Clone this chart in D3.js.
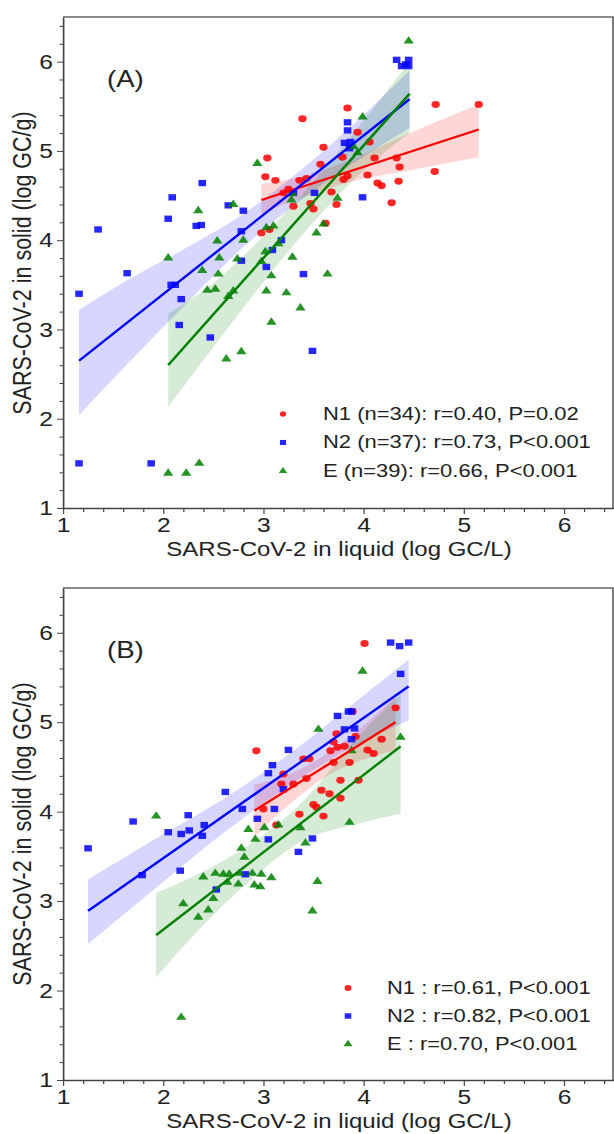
<!DOCTYPE html>
<html lang="en">
<head>
<meta charset="UTF-8">
<title>SARS-CoV-2 in solid vs liquid</title>
<script src="https://d3js.org/d3.v7.min.js"></script>
<style>
  body { margin: 0; background: #fff; }
  svg { display: block; }
  text { font-family: "Liberation Sans", Arial, sans-serif; fill: #222; }
</style>
</head>
<body>
<script>
// ---- values ----
const xTicks = [1, 2, 3, 4, 5, 6];
const yTicks = [1, 2, 3, 4, 5, 6];
const geneNames = ["N1", "N2", "E"];
const legendA = ["N1 (n=34): r=0.40, P=0.02", "N2 (n=37): r=0.73, P<0.001", "E (n=39): r=0.66, P<0.001"];
const legendB = ["N1 : r=0.61, P<0.001", "N2 : r=0.82, P<0.001", "E : r=0.70, P<0.001"];

// panel A  [liquid, solid]
const n1A = [[3.39,5.36],[3.04,4.92],[3.02,4.71],[3.12,4.67],[3.20,4.53],[3.25,4.57],[3.36,4.67],[3.43,4.69],
  [3.30,4.38],[3.47,4.41],[3.50,4.35],[2.98,4.08],[3.06,4.12],[3.57,4.85],[3.60,5.04],[3.68,4.54],[3.73,4.40],
  [3.62,4.19],[3.84,5.48],[3.94,5.21],[4.06,5.10],[3.79,4.93],[4.11,4.92],[4.33,4.92],[4.36,4.82],[3.84,4.72],
  [3.80,4.68],[4.04,4.73],[4.35,4.66],[4.14,4.64],[4.18,4.61],[4.28,4.42],[4.72,5.52],[5.15,5.52],[4.71,4.77]];
const n2A = [[1.35,4.12],[2.09,4.48],[2.05,4.24],[2.39,4.64],[2.33,4.16],[2.38,4.17],[2.65,4.39],[2.80,4.33],
  [2.78,4.10],[2.78,3.77],[1.64,3.63],[3.09,3.89],[3.18,4.00],[3.03,3.70],[3.40,3.62],[3.30,4.53],[3.51,4.53],
  [1.16,3.40],[2.08,3.50],[2.12,3.50],[2.18,3.34],[2.16,3.05],[2.47,2.91],[3.49,2.76],[1.16,1.50],[1.88,1.50],
  [3.84,5.32],[3.84,5.23],[3.81,5.09],[3.87,5.10],[3.86,5.03],[3.99,4.48],[4.33,6.02],[4.38,5.95],[4.42,5.97],
  [4.45,6.02],[4.45,5.95]];
const eA = [[2.94,4.86],[2.70,4.40],[2.35,4.33],[2.54,3.99],[2.80,4.00],[2.05,3.80],[2.56,3.80],[2.74,3.79],
  [3.03,4.14],[3.10,4.16],[3.29,4.52],[3.28,4.45],[3.02,3.87],[3.15,3.96],[3.29,3.81],[3.53,4.08],[2.39,3.66],
  [2.55,3.62],[2.98,3.76],[3.08,3.60],[2.44,3.44],[2.52,3.45],[2.65,3.37],[2.70,3.43],[3.03,3.43],[3.23,3.41],
  [3.37,3.24],[3.08,3.08],[2.63,2.67],[2.78,2.75],[2.05,1.39],[2.23,1.39],[2.36,1.50],[3.64,3.62],[3.60,4.18],
  [3.74,4.47],[4.45,6.23],[3.99,5.38],[3.90,5.05],[3.94,4.98]];
const n1AFit = [[2.98,4.45],[5.15,5.24]];
const n2AFit = [[1.16,2.65],[4.46,5.58]];
const eAFit = [[2.05,2.60],[4.46,5.64]];
// confidence band  [liquid, lower, upper]
const n1ABand = [[2.98,4.30,4.63],[3.40,4.48,4.72],[3.85,4.65,4.89],[4.40,4.77,5.17],[5.15,4.93,5.52]];
const n2ABand = [[1.16,2.04,3.22],[1.64,2.61,3.55],[2.24,3.30,3.92],[2.70,3.82,4.22],[3.56,4.60,4.96],[4.46,5.26,5.90]];
const eABand = [[2.05,2.13,3.18],[2.50,2.80,3.52],[3.00,3.53,4.05],[3.50,4.20,4.66],[4.00,4.78,5.34],[4.46,5.20,6.00]];

// panel B
const n1B = [[2.93,4.68],[3.40,4.59],[3.46,4.59],[3.67,4.68],[3.20,4.42],[3.18,4.31],[3.30,4.31],[3.43,4.37],
  [3.00,4.03],[3.13,3.85],[3.58,4.24],[3.66,4.20],[3.50,4.08],[3.53,4.05],[3.36,3.97],[3.60,3.95],[4.01,5.88],
  [4.32,5.16],[3.89,5.12],[3.73,4.87],[3.70,4.78],[3.74,4.72],[3.81,4.73],[3.92,4.84],[4.18,4.81],[4.04,4.69],
  [4.10,4.65],[3.70,4.55],[3.86,4.55],[3.77,4.35],[3.95,4.35],[3.77,4.15]];
const n2B = [[3.25,4.69],[3.09,4.52],[3.05,4.43],[3.20,4.25],[2.62,4.22],[2.79,4.03],[3.11,4.03],[2.94,3.92],
  [1.70,3.89],[2.25,3.96],[2.05,3.77],[2.18,3.75],[2.26,3.79],[2.41,3.85],[2.39,3.73],[3.05,3.69],[3.49,3.70],
  [1.25,3.59],[3.35,3.55],[2.17,3.34],[2.82,3.30],[2.53,3.13],[1.79,3.29],[4.27,5.89],[4.36,5.85],[4.45,5.89],
  [4.37,5.54],[3.74,5.07],[3.85,5.12],[3.88,5.12],[3.81,4.92],[3.91,4.93],[3.88,4.81]];
const eB = [[3.55,4.92],[1.93,3.95],[2.85,3.80],[3.01,3.82],[3.15,3.85],[3.37,3.82],[2.92,3.69],[2.78,3.59],
  [3.42,3.65],[2.81,3.49],[2.52,3.31],[2.40,3.27],[2.60,3.30],[2.66,3.30],[2.64,3.21],[2.76,3.31],[2.75,3.19],
  [2.89,3.31],[2.98,3.30],[3.08,3.26],[2.91,3.18],[2.97,3.16],[3.54,3.22],[3.49,2.89],[2.20,2.97],[2.50,3.03],
  [2.45,2.90],[2.35,2.82],[2.18,1.70],[3.99,5.57],[4.37,4.83],[3.88,4.68],[3.86,3.88]];
const n1BFit = [[2.91,4.01],[4.32,5.00]];
const n2BFit = [[1.25,2.89],[4.45,5.40]];
const eBFit = [[1.93,2.62],[4.37,4.73]];
const n1BBand = [[2.91,3.72,4.30],[3.30,4.12,4.44],[3.65,4.41,4.66],[4.00,4.58,4.96],[4.32,4.69,5.30]];
const n2BBand = [[1.25,2.52,3.24],[1.90,3.12,3.68],[2.60,3.76,4.14],[3.30,4.32,4.68],[3.90,4.73,5.21],[4.45,5.02,5.70]];
const eBBand = [[1.93,2.15,3.09],[2.40,2.73,3.33],[2.90,3.26,3.66],[3.40,3.68,4.12],[3.90,3.85,4.78],[4.37,3.98,5.32]];

// ---- drawing ----
const W = 614, H = 1134;
const SX = 1.2;               // the figure is stretched horizontally
const rx = v => v / SX;

const colors = ["#ff0000", "#0000ff", "#008000"];
const symbols = [d3.symbolCircle, d3.symbolSquare, d3.symbolTriangle];
const sizes = [38, 40, 32];

const svg = d3.select("body").append("svg")
  .attr("width", W).attr("height", H)
  .attr("viewBox", `0 0 ${rx(W)} ${H}`)
  .attr("preserveAspectRatio", "none");

const x = d3.scaleLinear().domain([1, 6.5]).range([rx(63), rx(614)]);
const minorTicks = d3.range(5, 33).filter(i => i % 5 !== 0).map(i => i / 5);

function drawPanel(p) {
  const y = d3.scaleLinear().domain([1, 6.5]).range([p.bottom, p.top]);
  const g = svg.append("g");

  const area = d3.area()
    .x(d => x(d[0])).y0(d => y(d[1])).y1(d => y(d[2]))
    .curve(d3.curveMonotoneX);

  p.bands.forEach((b, i) => {
    g.append("path").datum(b).attr("d", area)
      .attr("fill", colors[i]).attr("fill-opacity", 0.16);
  });

  // frame top / right
  g.append("path")
    .attr("d", `M${x(1)},${y(6.5)}H${rx(613)}V${y(1)}`)
    .attr("fill", "none").attr("stroke", "#666").attr("stroke-width", 1.4);

  // axes
  const ax = g.append("g").attr("transform", `translate(0,${y(1)})`)
    .call(d3.axisBottom(x).tickValues(xTicks).tickSize(6).tickSizeOuter(0).tickPadding(3).tickFormat(d3.format("d")));
  g.append("g").attr("transform", `translate(0,${y(1)})`)
    .call(d3.axisBottom(x).tickValues(minorTicks).tickSize(4).tickSizeOuter(0).tickFormat(""))
    .select(".domain").remove();
  const ay = g.append("g").attr("transform", `translate(${x(1)},0)`)
    .call(d3.axisLeft(y).tickValues(yTicks).tickSize(rx(6)).tickSizeOuter(0).tickPadding(rx(4)).tickFormat(d3.format("d")));
  g.append("g").attr("transform", `translate(${x(1)},0)`)
    .call(d3.axisLeft(y).tickValues(minorTicks).tickSize(rx(3.5)).tickSizeOuter(0).tickFormat(""))
    .select(".domain").remove();

  g.selectAll(".domain").attr("stroke", "#444").attr("stroke-width", 1.4);
  g.selectAll(".tick line").attr("stroke", "#444");
  [ax, ay].forEach(a => a.selectAll("text")
    .attr("font-size", 20.5).attr("fill", "#222")
    .attr("font-family", "'Liberation Sans', Arial, sans-serif"));

  // points
  p.points.forEach((pts, i) => {
    g.append("g").selectAll("path").data(pts).join("path")
      .attr("transform", d => `translate(${x(d[0])},${y(d[1])})`)
      .attr("d", d3.symbol(symbols[i], sizes[i]))
      .attr("fill", colors[i]).attr("fill-opacity", 0.85);
  });

  // regression lines
  const line = d3.line().x(d => x(d[0])).y(d => y(d[1]));
  p.fits.forEach((f, i) => {
    g.append("path").datum(f).attr("d", line)
      .attr("fill", "none").attr("stroke", colors[i]).attr("stroke-width", 2.2);
  });

  // panel label
  g.append("text").attr("x", rx(107)).attr("y", p.top + 70)
    .attr("font-size", 23).text(p.label);

  // legend
  p.legend.forEach((t, i) => {
    const ly = p.top + p.legendY + i * p.legendStep;
    g.append("path")
      .attr("transform", `translate(${rx(p.symX)},${ly - 6})`)
      .attr("d", d3.symbol(symbols[i], p.legendSize[i]))
      .attr("fill", colors[i]).attr("fill-opacity", 0.85);
    g.append("text").attr("x", rx(p.textX)).attr("y", ly)
      .attr("font-size", 18.3).attr("fill", "#333").text(t);
  });

  // axis titles
  g.append("text")
    .attr("transform", `translate(${rx(31)},${p.top + 246}) rotate(-90)`)
    .attr("text-anchor", "middle").attr("font-size", 21.5)
    .text("SARS-CoV-2 in solid (log GC/g)");
  g.append("text")
    .attr("x", rx(339)).attr("y", p.bottom + 48)
    .attr("text-anchor", "middle").attr("font-size", 20)
    .text("SARS-CoV-2 in liquid (log GC/L)");
}

drawPanel({
  top: 17, bottom: 508, label: "(A)",
  points: [n1A, n2A, eA], fits: [n1AFit, n2AFit, eAFit], bands: [n1ABand, n2ABand, eABand],
  legend: legendA, legendY: 403, legendStep: 28.5, symX: 283, textX: 323, legendSize: [22, 26, 22]
});
drawPanel({
  top: 588, bottom: 1080, label: "(B)",
  points: [n1B, n2B, eB], fits: [n1BFit, n2BFit, eBFit], bands: [n1BBand, n2BBand, eBBand],
  legend: legendB, legendY: 406, legendStep: 28, symX: 348, textX: 387, legendSize: [26, 30, 24]
});
</script>
</body>
</html>
